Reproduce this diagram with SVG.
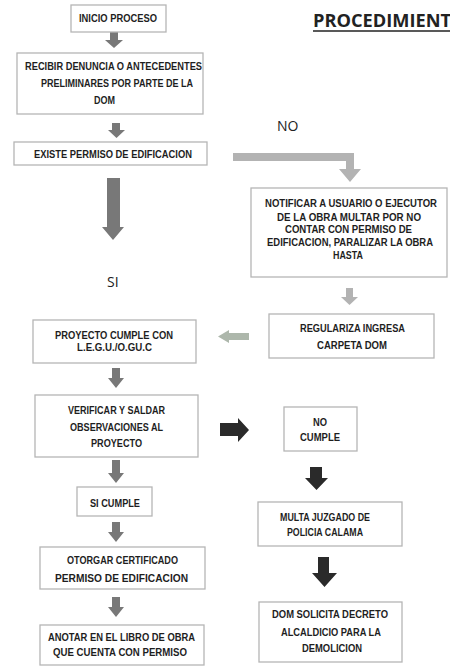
<svg xmlns="http://www.w3.org/2000/svg" width="450" height="666" viewBox="0 0 450 666">
<style>
.box{fill:#fff;stroke:#b5b5b5;stroke-width:1.3}
.t{font-family:"Liberation Sans",Arial,sans-serif;font-weight:bold;font-size:10px;fill:#1e1e1e;text-anchor:start}
.lbl{font-family:"Open Sans","Liberation Sans",sans-serif;font-size:14px;fill:#222}
.g{fill:#787878}
.lg{fill:#b3b3b3}
.lg2{fill:#adb7ab}
.k{fill:#2a2a2a}
</style>
<rect width="450" height="666" fill="#fff"/>
<g id="title">
<text x="313" y="27" font-family="Open Sans, Liberation Sans, sans-serif" font-weight="bold" font-size="18" fill="#222" textLength="138" lengthAdjust="spacingAndGlyphs">PROCEDIMIENT</text>
<line x1="313" y1="31" x2="450" y2="31" stroke="#222" stroke-width="1.6"/>
</g>
<g id="labels">
<text class="lbl" x="277" y="131">NO</text>
<text class="lbl" x="107" y="287">SI</text>
</g>
<g id="connectors">
<polygon class="g" points="110,30 118,30 118,40 123,40 114,48 105,40 110,40"/>
<polygon class="g" points="112,123 120,123 120,130 125,130 116.5,138 108,130 112,130"/>
<polygon class="g" points="107,178 120,178 120,227 124,227 113,240 102,227 107,227"/>
<polygon class="lg" points="233,153 354,153 354,169 361,169 350,182 339,169 346,169 346,161 233,161"/>
<polygon class="lg" points="346,288 353,288 353,297 358,297 349.5,305 341,297 346,297"/>
<polygon class="lg2" points="249,333 229,333 229,330 218,336.5 229,343 229,340 249,340"/>
<polygon class="g" points="112,368 120,368 120,378 124,378 116,388 108,378 112,378"/>
<polygon class="k" points="220,423 238,423 238,418 249,430 238,442 238,436 220,436"/>
<polygon class="g" points="112,460 120,460 120,473 124,473 116,483 108,473 112,473"/>
<polygon class="k" points="310,467 322,467 322,478 328,478 316.5,490 305,478 310,478"/>
<polygon class="g" points="112,522 120,522 120,532 124,532 116,542 108,532 112,532"/>
<polygon class="k" points="318,557 329,557 329,573 337,573 324.5,587 312,573 318,573"/>
<polygon class="g" points="112,597 120,597 120,607 124,607 116,617 108,607 112,607"/>
</g>
<g id="inicio">
<rect class="box" x="71" y="5" width="95" height="27"/>
<text class="t" x="79" y="21.5" textLength="78" lengthAdjust="spacingAndGlyphs">INICIO PROCESO</text>
</g>
<g id="recibir">
<rect class="box" x="17" y="53" width="186" height="61"/>
<text class="t" x="25" y="70" textLength="177" lengthAdjust="spacingAndGlyphs">RECIBIR DENUNCIA O ANTECEDENTES</text>
<text class="t" x="41" y="87" textLength="152" lengthAdjust="spacingAndGlyphs">PRELIMINARES POR PARTE DE LA</text>
<text class="t" x="94" y="104" textLength="21" lengthAdjust="spacingAndGlyphs">DOM</text>
</g>
<g id="existe">
<rect class="box" x="14" y="142" width="193" height="23"/>
<text class="t" x="34" y="158" textLength="158" lengthAdjust="spacingAndGlyphs">EXISTE PERMISO DE EDIFICACION</text>
</g>
<g id="notificar">
<rect class="box" x="251" y="188" width="196" height="89"/>
<text class="t" x="265" y="207" textLength="172" lengthAdjust="spacingAndGlyphs">NOTIFICAR A USUARIO O EJECUTOR</text>
<text class="t" x="277" y="220.5" textLength="144" lengthAdjust="spacingAndGlyphs">DE LA OBRA  MULTAR POR NO</text>
<text class="t" x="285" y="233" textLength="127" lengthAdjust="spacingAndGlyphs">CONTAR CON PERMISO DE</text>
<text class="t" x="267" y="246" textLength="166" lengthAdjust="spacingAndGlyphs">EDIFICACION, PARALIZAR LA OBRA</text>
<text class="t" x="333" y="259" textLength="30" lengthAdjust="spacingAndGlyphs">HASTA</text>
</g>
<g id="regulariza">
<rect class="box" x="269" y="314" width="165" height="44"/>
<text class="t" x="300" y="332" textLength="105" lengthAdjust="spacingAndGlyphs">REGULARIZA INGRESA</text>
<text class="t" x="317" y="349" textLength="70" lengthAdjust="spacingAndGlyphs">CARPETA DOM</text>
</g>
<g id="proyecto">
<rect class="box" x="33" y="320" width="163" height="43"/>
<text class="t" x="55" y="339" textLength="118" lengthAdjust="spacingAndGlyphs">PROYECTO CUMPLE CON</text>
<text class="t" x="77" y="351" textLength="75" lengthAdjust="spacingAndGlyphs">L.E.G.U./O.GU.C</text>
</g>
<g id="verificar">
<rect class="box" x="35" y="395" width="163" height="62"/>
<text class="t" x="68" y="414" textLength="97" lengthAdjust="spacingAndGlyphs">VERIFICAR Y SALDAR</text>
<text class="t" x="70" y="431" textLength="93" lengthAdjust="spacingAndGlyphs">OBSERVACIONES AL</text>
<text class="t" x="91" y="447" textLength="51" lengthAdjust="spacingAndGlyphs">PROYECTO</text>
</g>
<g id="nocumple">
<rect class="box" x="284" y="407" width="73" height="44"/>
<text class="t" x="313" y="426" textLength="14" lengthAdjust="spacingAndGlyphs">NO</text>
<text class="t" x="300" y="441" textLength="40" lengthAdjust="spacingAndGlyphs">CUMPLE</text>
</g>
<g id="sicumple">
<rect class="box" x="77" y="487" width="75" height="29"/>
<text class="t" x="90" y="507" textLength="50" lengthAdjust="spacingAndGlyphs">SI CUMPLE</text>
</g>
<g id="multa">
<rect class="box" x="258" y="502" width="144" height="44"/>
<text class="t" x="280" y="521" textLength="90" lengthAdjust="spacingAndGlyphs">MULTA JUZGADO DE</text>
<text class="t" x="287" y="536" textLength="76" lengthAdjust="spacingAndGlyphs">POLICIA CALAMA</text>
</g>
<g id="otorgar">
<rect class="box" x="40" y="547" width="165" height="42"/>
<text class="t" x="67" y="564" textLength="111" lengthAdjust="spacingAndGlyphs">OTORGAR CERTIFICADO</text>
<text class="t" x="55" y="582" textLength="133" lengthAdjust="spacingAndGlyphs">PERMISO DE EDIFICACION</text>
</g>
<g id="dom">
<rect class="box" x="259" y="602" width="143" height="60"/>
<text class="t" x="272" y="618" textLength="116" lengthAdjust="spacingAndGlyphs">DOM SOLICITA DECRETO</text>
<text class="t" x="281" y="636" textLength="100" lengthAdjust="spacingAndGlyphs">ALCALDICIO PARA LA</text>
<text class="t" x="302" y="652" textLength="60" lengthAdjust="spacingAndGlyphs">DEMOLICION</text>
</g>
<g id="anotar">
<rect class="box" x="40" y="625" width="164" height="40"/>
<text class="t" x="48" y="641" textLength="147" lengthAdjust="spacingAndGlyphs">ANOTAR EN EL LIBRO DE OBRA</text>
<text class="t" x="53" y="656" textLength="134" lengthAdjust="spacingAndGlyphs">QUE CUENTA CON PERMISO</text>
</g>
</svg>
